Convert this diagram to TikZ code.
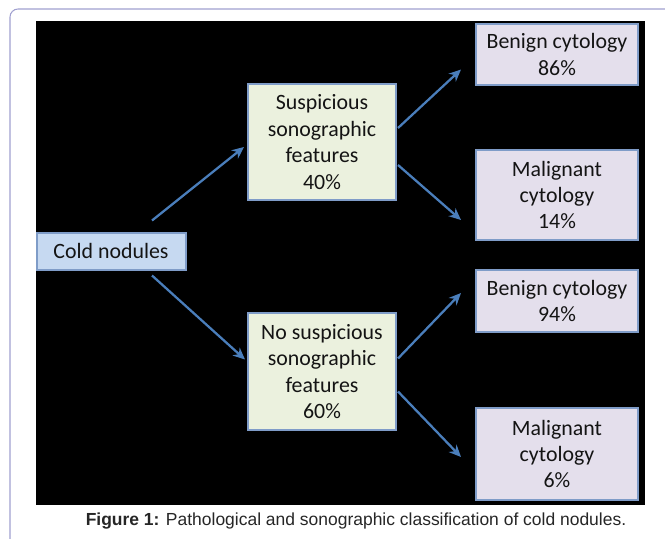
\documentclass[tikz,border=0pt]{standalone}
\usepackage{fontspec}
\setmainfont{Carlito}
\newfontfamily\capfont{Liberation Sans}
\usetikzlibrary{arrows.meta,backgrounds}
\definecolor{arrowblue}{HTML}{4A7EBB}
\definecolor{boxblue}{HTML}{7F9CC8}
\definecolor{coldfill}{HTML}{C6D9F1}
\definecolor{featfill}{HTML}{EBF1DE}
\definecolor{cytofill}{HTML}{E4DFEC}
\definecolor{framecolor}{HTML}{A0A0D0}
\newcommand{\boxline}{1.5pt}
\newcommand{\arrowline}{1.7pt}

\begin{document}
\begin{tikzpicture}[x=0.75pt,y=-0.75pt,
    box/.style={draw=boxblue, line width=\boxline, align=center, inner sep=0pt,
        font=\fontsize{16.4}{19.8}\selectfont, text=black!92},
    arr/.style={draw=arrowblue, line width=\arrowline, -{Stealth[length=9pt,width=8pt]}}]
    \useasboundingbox (0,0) rectangle (665,539);
    %Frame and background:
    \draw[framecolor, line width=0.8pt, rounded corners=6] (10,560) -- (10,9) -- (690,9);
    \fill[black] (36,21) rectangle (645,505);

    %Boxes:
    \node[box, fill=coldfill, minimum width=111.75pt, minimum height=27.75pt] (cold) at (111,251) {Cold nodules};
    \node[box, fill=featfill, minimum width=111pt, minimum height=87pt] (susp) at (322,142) {Suspicious\\sonographic\\features\\40\%};
    \node[box, fill=featfill, minimum width=111pt, minimum height=87.75pt] (nosusp) at (322,371.5) {No suspicious\\sonographic\\features\\60\%};
    \node[box, fill=cytofill, minimum width=121.5pt, minimum height=45.75pt] (benA) at (557,54.5) {Benign cytology\\86\%};
    \node[box, fill=cytofill, minimum width=121.5pt, minimum height=67.5pt] (malA) at (557,195) {Malignant\\cytology\\14\%};
    \node[box, fill=cytofill, minimum width=121.5pt, minimum height=46.5pt] (benB) at (557,301) {Benign cytology\\94\%};
    \node[box, fill=cytofill, minimum width=121.5pt, minimum height=69pt] (malB) at (557,454) {Malignant\\cytology\\6\%};

    %Arrows:
    \draw[arr] ([shift={(41,-11)}]cold.north) -- ([shift={(-3,5)}]susp.west);
    \draw[arr] ([shift={(41,5)}]cold.south) -- ([shift={(-2,-12)}]nosusp.west);
    \draw[arr] ([shift={(1,-14)}]susp.east) -- ([shift={(-14,15)}]benA.west);
    \draw[arr] ([shift={(1,23)}]susp.east) -- ([shift={(-14,25)}]malA.west);
    \draw[arr] ([shift={(1,-13)}]nosusp.east) -- ([shift={(-14,-8)}]benB.west);
    \draw[arr] ([shift={(1,20)}]nosusp.east) -- ([shift={(-14,3)}]malB.west);

    %Caption:
    \node[font=\capfont\fontsize{13.1}{15}\selectfont, text=black!85, inner sep=0pt] (cap) at (356,521)
        {\textbf{Figure 1:} Pathological and sonographic classification of cold nodules.};
\end{tikzpicture}
\end{document}
